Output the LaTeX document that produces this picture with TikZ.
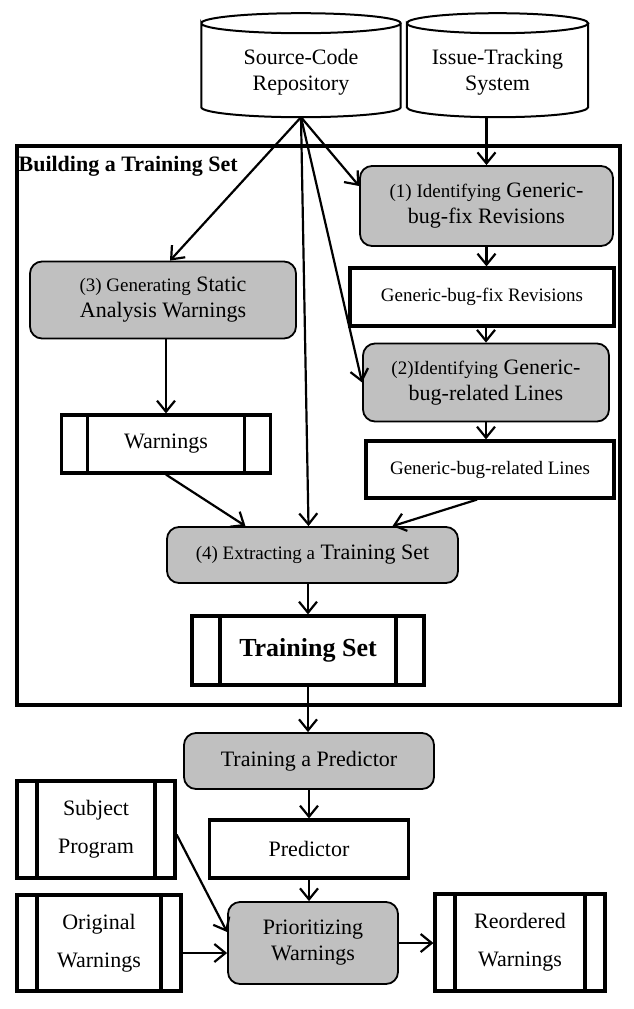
\documentclass[tikz,border=0pt]{standalone}
\usepackage{fontspec}
\setmainfont{Liberation Serif}
\usetikzlibrary{arrows.meta,calc}
\definecolor{boxgray}{RGB}{192,192,192}
\newcommand{\smalltxt}{\fontsize{19pt}{26pt}\selectfont}

\begin{document}
\begin{tikzpicture}[x=1pt,y=1pt,
    every node/.style={font=\fontsize{22pt}{26pt}\selectfont, align=center, inner sep=0pt},
    store/.style={minimum width=#1, minimum height=90pt},
    stepbox/.style={draw, fill=boxgray, rounded corners=12pt, line width=1.8pt},
    databox/.style={draw, line width=3.2pt},
    docbox/.style={draw, line width=3.2pt,
      path picture={\draw[line width=3.2pt]
        ([xshift=#1]path picture bounding box.north west) -- ([xshift=#1]path picture bounding box.south west)
        ([xshift=-#1]path picture bounding box.north east) -- ([xshift=-#1]path picture bounding box.south east);}},
    arr/.style={-{Straight Barb[length=11pt,width=18pt]}, line width=2.2pt}]
    \useasboundingbox (0,0) rectangle (634,-1009);

    % data stores
    \node[store=199pt] (src) at (301,-72) {Source-Code\\Repository};
    \node[store=181pt] (its) at (497.5,-72) {Issue-Tracking\\System};
    \foreach \s in {src,its}
      \draw[line width=2pt] let \p1=($(\s.south east)-(\s.south west)$) in
      ([yshift=94pt]\s.south west) arc[start angle=180, end angle=-180, x radius=0.5*\x1, y radius=10pt]
      -- ([yshift=10pt]\s.south west) arc[start angle=180, end angle=360, x radius=0.5*\x1, y radius=10pt]
      -- ([yshift=94pt]\s.south east);

    % building a training set
    \node[draw, line width=3.2pt, minimum width=603pt, minimum height=559pt] (frame) at (318.5,-425.5) {};
    \node[anchor=base west, font=\bfseries\fontsize{22pt}{26pt}\selectfont] (title)
      at ([xshift=3pt,yshift=-27pt]frame.north west) {Building a Training Set};

    \node[stepbox, minimum width=253pt, minimum height=80pt] (id1) at (486.5,-206)
      {{\smalltxt (1) Identifying} Generic-\\bug-fix Revisions};
    \node[databox, minimum width=264pt, minimum height=58pt, font=\smalltxt] (gbfr) at (482,-297)
      {Generic-bug-fix Revisions};
    \node[stepbox, minimum width=246pt, minimum height=78pt] (id2) at (486,-382.5)
      {{\smalltxt (2)Identifying} Generic-\\bug-related Lines};
    \node[databox, minimum width=248pt, minimum height=57pt, font=\smalltxt] (gbrl) at (490,-469.5)
      {Generic-bug-related Lines};
    \node[stepbox, minimum width=266pt, minimum height=77pt] (id3) at (163,-300)
      {{\smalltxt (3) Generating} Static\\Analysis Warnings};
    \node[docbox=26pt, minimum width=209pt, minimum height=58pt] (warn) at (166,-444) {Warnings};
    \node[stepbox, minimum width=291pt, minimum height=56pt] (id4) at (312.5,-555)
      {{\smalltxt (4) Extracting a} Training Set};
    \node[docbox=28pt, minimum width=232pt, minimum height=69pt,
      font=\bfseries\fontsize{26pt}{30pt}\selectfont] (tset) at (308,-650.5) {Training Set};

    % prediction
    \node[stepbox, minimum width=250pt, minimum height=56pt] (train) at (309,-761) {Training a Predictor};
    \node[databox, minimum width=199pt, minimum height=58pt] (pred) at (309,-849) {Predictor};
    \node[docbox=20pt, minimum width=158pt, minimum height=97pt] (subj) at (96,-829.5) {Subject\\[12pt]Program};
    \node[docbox=20pt, minimum width=164pt, minimum height=96pt] (orig) at (99,-943) {Original\\[12pt]Warnings};
    \node[stepbox, minimum width=170pt, minimum height=82pt] (prio) at (313,-943) {Prioritizing\\Warnings};
    \node[docbox=20pt, minimum width=170pt, minimum height=97pt] (reord) at (520,-942.5) {Reordered\\[12pt]Warnings};

    % connectors
    \draw[arr] (src.south) -- ([xshift=7pt]id3.north);
    \draw[arr] (src.south) -- ([yshift=20pt]id1.west);
    \draw[arr] (src.south) -- (id2.west);
    \draw[arr] (src.south) -- ([xshift=-4pt]id4.north);
    \draw[arr] (its.south -| id1.north) -- (id1.north);
    \draw[arr] (id1.south) -- (id1.south |- gbfr.north);
    \draw[arr] (id2.north |- gbfr.south) -- (id2.north);
    \draw[arr] (id2.south) -- (id2.south |- gbrl.north);
    \draw[arr] (warn.north |- id3.south) -- (warn.north);
    \draw[arr] (warn.south) -- ([xshift=-67pt]id4.north);
    \draw[arr] ([xshift=-13pt]gbrl.south) -- ([xshift=80pt]id4.north);
    \draw[arr] (tset.north |- id4.south) -- (tset.north);
    \draw[arr] (tset.south) -- (tset.south |- train.north);
    \draw[arr] (pred.north |- train.south) -- (pred.north);
    \draw[arr] (pred.south) -- (pred.south |- prio.north);
    \draw[arr] ([yshift=-5pt]subj.east) -- ([yshift=11pt]prio.west);
    \draw[arr] ([yshift=-10pt]orig.east) -- ([yshift=-10pt]orig.east -| prio.west);
    \draw[arr] (prio.east) -- (prio.east -| reord.west);
\end{tikzpicture}
\end{document}
